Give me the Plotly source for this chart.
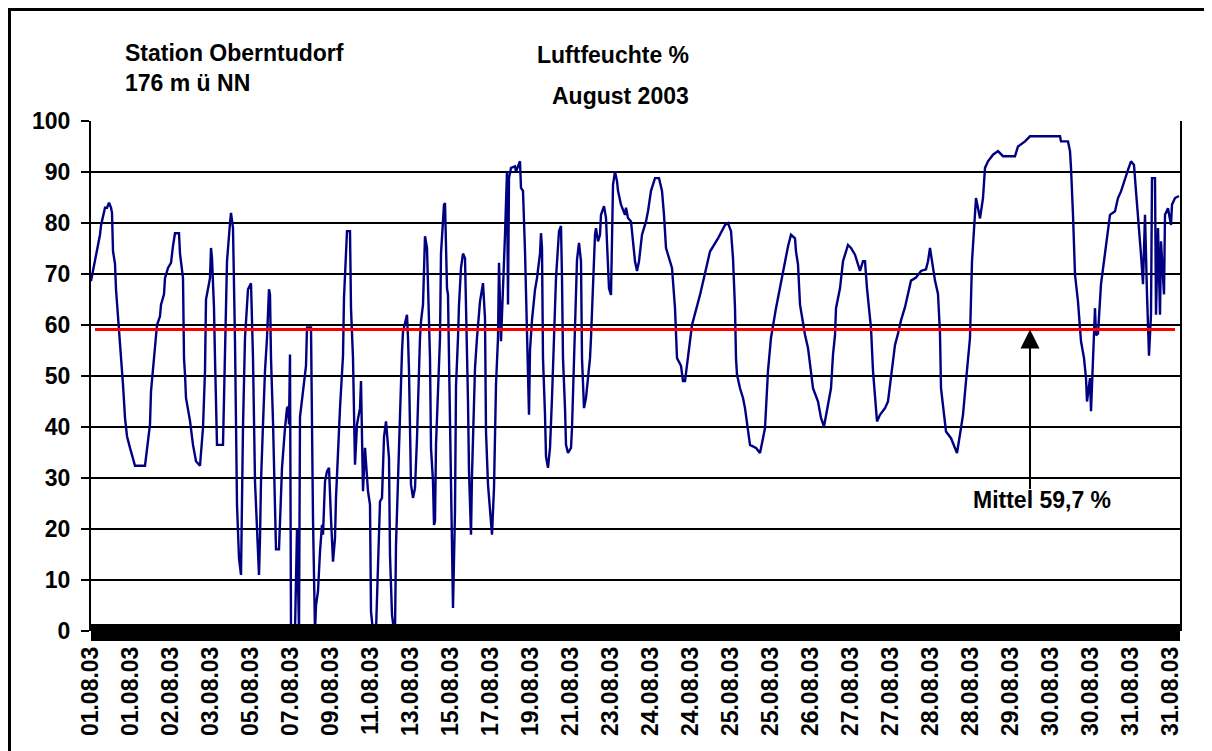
import plotly.graph_objects as go

# Messpunkt-Nr. (Kategorie der Excel-Achse) und relative Luftfeuchte in %
messpunkt = [
    0, 2, 4, 6, 9, 10, 14, 16, 18, 20, 21, 22, 24, 25, 27, 29, 30, 32, 34, 36,
    39, 44, 54, 55, 57, 59, 60, 62, 64, 66, 69, 70, 73, 74, 77, 80, 82, 84, 88, 89,
    92, 93, 94, 95, 99, 102, 105, 109, 110, 112, 114, 115, 119, 120, 121, 123, 124, 125, 126, 132,
    133, 136, 139, 140, 142, 144, 146, 148, 150, 151, 152, 154, 157, 160, 161, 162, 164, 166, 168, 169,
    170, 172, 174, 176, 178, 179, 180, 182, 184, 185, 188, 189, 191, 194, 196, 197, 198, 199, 200, 204,
    205, 206, 208, 209, 212, 215, 216, 220, 222, 224, 225, 227, 229, 231, 232, 234, 236, 238, 240, 241,
    242, 244, 245, 249, 252, 253, 254, 256, 259, 260, 262, 263, 264, 265, 266, 269, 270, 272, 274, 277,
    279, 280, 282, 285, 287, 289, 291, 293, 295, 298, 299, 301, 303, 304, 305, 307, 309, 311, 312, 314,
    316, 317, 318, 320, 322, 324, 326, 329, 330, 332, 334, 336, 338, 339, 340, 342, 343, 344, 345, 347,
    349, 350, 353, 354, 356, 357, 358, 359, 361, 362, 364, 365, 367, 368, 370, 372, 374, 376, 377, 378,
    380, 381, 384, 386, 389, 392, 394, 395, 397, 401, 403, 405, 407, 408, 410, 414, 415, 416, 417, 418,
    420, 424, 425, 429, 430, 432, 434, 436, 438, 439, 441, 444, 446, 449, 450, 451, 452, 454, 455, 457,
    459, 461, 463, 464, 465, 468, 470, 471, 472, 474, 475, 477, 480, 481, 483, 484, 486, 488, 490, 491,
    492, 493, 495, 499, 500, 502, 504, 505, 507, 509, 510, 513, 515, 516, 518, 520, 521, 522, 524, 526,
    527, 530, 534, 535, 537, 540, 542, 544, 546, 548, 551, 555, 557, 560, 564, 568, 571, 573, 575, 579,
    581, 584, 586, 590, 592, 594, 597, 600, 601, 609, 615, 619, 627, 634, 637, 640, 642, 644, 645, 646,
    649, 652, 654, 657, 659, 665, 669, 672, 674, 677, 680, 685, 690, 695, 697, 700, 704, 705, 707, 709,
    710, 714, 717, 719, 722, 727, 730, 733, 737, 740, 742, 744, 745, 747, 749, 752, 754, 757, 760, 764,
    767, 769, 772, 774, 776, 780, 782, 784, 786, 789, 794, 797, 800, 804, 807, 810, 814, 817, 820, 825,
    830, 835, 837, 839, 842, 844, 847, 849, 850, 852, 855, 860, 866, 870, 872, 875, 879, 881, 883, 885,
    889, 892, 894, 897, 902, 907, 912, 924, 927, 934, 939, 969, 970, 977, 979, 980, 982, 984, 987, 990,
    993, 995, 996, 999, 1000, 1002, 1004, 1005, 1007, 1010, 1012, 1015, 1019, 1024, 1027, 1030, 1034, 1037, 1040, 1043,
    1045, 1047, 1049, 1050, 1052, 1053, 1054, 1056, 1057, 1058, 1060, 1061, 1064, 1065, 1067, 1069, 1070, 1073, 1074, 1077,
    1080, 1081, 1084, 1088,
]
feuchte = [
    68.6, 70.6, 72, 74, 77.7, 79.5, 83, 83, 84, 83, 82, 74.5, 72, 67, 62, 57.5, 53.5, 48.3, 41.8, 38.2,
    35.9, 32.4, 32.4, 34.3, 37.8, 40.5, 47, 51.2, 55.5, 60, 61.7, 64, 66, 69.2, 71.2, 72.2, 75.5, 78, 78, 74,
    69.2, 53.5, 50.3, 45.7, 41.2, 36.5, 33.3, 32.4, 34.9, 39.8, 51, 65, 69.2, 75.1, 73.1, 63.3, 53.5, 47, 36.5, 36.5,
    45.7, 72.5, 80, 82, 79, 56.8, 24.8, 14.3, 11, 29.3, 40, 57.5, 67, 68.2, 62, 53.5, 29.3, 18.2, 11, 18.2,
    29.3, 40.5, 51, 57.5, 67, 65.9, 53.5, 41.1, 22.2, 16, 16, 22.2, 32, 39.8, 43.7, 44, 40.5, 54.2, 0, 0,
    12.5, 20, 0, 42, 47, 52, 59.5, 59.5, 22, 0, 5, 7.8, 15.6, 20.8, 18.9, 29.3, 31.3, 32, 22, 16.9,
    13.6, 18.2, 26.1, 43.7, 54, 65.3, 69.9, 78.4, 78.4, 63.3, 53.5, 37.8, 32.6, 36.5, 40.5, 43.7, 49, 27.4, 35.9, 27.4,
    24.8, 3.8, 0, 0, 14.2, 25.4, 26.1, 38, 41.1, 33.9, 14.9, 3.2, 0, 0, 16.9, 30, 44.4, 54.8, 58.7, 60.7,
    62, 57.5, 51, 28.7, 26.1, 28, 37.8, 57.5, 60.7, 64, 77.4, 75.1, 60.7, 53.5, 35.9, 29.3, 20.8, 21.5, 36.5, 47.6,
    57.5, 74, 83.6, 83.9, 67.2, 65.9, 53.5, 36, 18, 4.5, 23.5, 48, 57.5, 64, 71.2, 74, 73.1, 56.2, 45, 31.3,
    18.9, 30.6, 51.6, 57.5, 64.6, 68.2, 61.3, 39.1, 28.7, 18.9, 28, 48.3, 57.5, 72.2, 56.8, 77.7, 83, 90.1, 64, 88.8,
    90.8, 91.1, 90.1, 92.1, 86.9, 86.3, 74.5, 56.8, 42.4, 55, 61, 66.9, 69.2, 74, 78, 75.1, 53.5, 42.4, 34.2, 32,
    35.9, 45.7, 57.5, 60.7, 69.2, 78.4, 79.4, 69.2, 53.5, 43.7, 36.5, 34.9, 35.9, 39.8, 52.9, 59.4, 72.8, 76.1, 72.5, 53.5,
    47.6, 43.7, 45.7, 53.5, 57.5, 69.9, 77.7, 79, 76.4, 77.7, 81.6, 83.3, 81, 76.1, 67.2, 65.9, 76.4, 87.5, 90.1, 88.2,
    86.3, 83.6, 81.6, 83, 81, 80.3, 76.4, 72.5, 70.6, 72.5, 77.7, 80.3, 82.3, 86.3, 88.8, 88.8, 86.3, 81.6, 75.1, 72.5,
    71.2, 63.3, 53.5, 52, 49, 49, 53.5, 57.5, 60, 65.9, 71.2, 74.4, 77, 79.6, 80, 78.4, 73.1, 63.3, 53.5, 50.3,
    47.6, 45.7, 43.7, 39.8, 36.5, 35.9, 34.9, 37.8, 39.8, 51, 57.5, 63.3, 68.5, 73.1, 75.4, 77.7, 77, 74.4, 71.9, 64,
    62.7, 58.1, 55.5, 52.2, 47.6, 45, 41.8, 40.1, 44.4, 47.6, 54.2, 58, 63.3, 65.3, 67.2, 72.5, 73.8, 75.7, 75.1, 73.8,
    71.9, 70.6, 72.5, 72.5, 67.2, 59.4, 51, 46.4, 41.1, 42.4, 43.7, 45, 49.6, 56.1, 58.3, 60.9, 63.5, 66.1, 68.7, 69.3,
    70.6, 70.9, 72.5, 75.1, 71.2, 68.7, 66.1, 58.3, 47.6, 43.7, 39.1, 37.8, 34.9, 39.8, 42.4, 49, 57.5, 72.5, 79.6, 84.9,
    80.9, 84.9, 90.8, 92.1, 93.4, 94.1, 93.1, 93.1, 95, 96, 97, 97, 96, 96, 94.1, 90.8, 81.6, 69.9, 64.6, 56.8,
    53.5, 49.6, 45, 49.6, 43.1, 52.2, 63.3, 58, 58.3, 68, 71.2, 76.4, 81.6, 82.3, 84.9, 86.2, 88.8, 90.4, 92.1, 91.4,
    86.2, 81.6, 77.7, 73.8, 68, 73, 81.6, 66, 56.8, 54, 62, 88.8, 88.8, 62, 79, 62, 76.4, 66, 81.6, 82.9,
    79.6, 83.6, 84.9, 85.3,
]

# Beschriftung der Kategorienachse (jeder 40. Messpunkt)
datum_ticks = [0, 40, 80, 120, 160, 200, 240, 280, 320, 360, 400, 440, 480, 520,
               560, 600, 640, 680, 720, 760, 800, 840, 880, 920, 960, 1000, 1040, 1080]
datum_labels = [
    "01.08.03", "01.08.03", "02.08.03", "03.08.03", "05.08.03", "07.08.03", "09.08.03",
    "11.08.03", "13.08.03", "15.08.03", "17.08.03", "19.08.03", "21.08.03", "23.08.03",
    "24.08.03", "24.08.03", "25.08.03", "25.08.03", "26.08.03", "27.08.03", "27.08.03",
    "28.08.03", "28.08.03", "29.08.03", "30.08.03", "30.08.03", "31.08.03", "31.08.03",
]

mittel_x = [4, 1084]
mittel_y = [59.1, 59.1]
mittel_text = "Mittel 59,7 %"
mittel_pfeil_x = 939

W, H = 1212, 751
L, R, T, B = 83, 40, 113, 128
PW, PH = W - L - R, H - T - B
FONT = "Liberation Sans, Arial, sans-serif"


def px(x):
    # Pixel (von links) -> paper-Koordinate
    return (x - L) / PW


def py(y):
    # Pixel (von oben) -> paper-Koordinate
    return (H - B - y) / PH


fig = go.Figure()
fig.add_trace(go.Scatter(
    x=messpunkt, y=feuchte, mode="lines",
    line=dict(color="#000080", width=2.4), hoverinfo="skip",
))
fig.add_trace(go.Scatter(
    x=mittel_x, y=mittel_y, mode="lines",
    line=dict(color="#ff0000", width=3), hoverinfo="skip",
))

fig.update_layout(
    width=W, height=H,
    margin=dict(l=L, r=R, t=T, b=B, autoexpand=False),
    paper_bgcolor="white", plot_bgcolor="white",
    showlegend=False,
    font=dict(family=FONT, size=23, color="black", weight="bold"),
    xaxis=dict(
        range=[0, 1089], tickmode="array", tickvals=datum_ticks, ticktext=datum_labels,
        tickangle=-90, showgrid=False, zeroline=False, showline=False, ticks="",
        ticklabelstandoff=10,
    ),
    yaxis=dict(
        range=[0, 100], dtick=10, showgrid=True, gridcolor="black", gridwidth=2,
        showline=True, linecolor="black", linewidth=2, mirror=True,
        ticks="outside", ticklen=8, tickwidth=2, tickcolor="black",
        zeroline=False, ticklabelstandoff=6,
    ),
)

fig.add_annotation(
    x=px(115), y=py(60), xref="paper", yref="paper", xanchor="left", yanchor="middle",
    align="left", showarrow=False, text="Station Oberntudorf<br>176 m ü NN",
)
fig.add_annotation(
    x=px(683), y=py(46.5), xref="paper", yref="paper", xanchor="right", yanchor="middle",
    showarrow=False, text="Luftfeuchte %",
)
fig.add_annotation(
    x=px(683), y=py(88.5), xref="paper", yref="paper", xanchor="right", yanchor="middle",
    showarrow=False, text="August 2003",
)
fig.add_annotation(
    x=px(963), y=py(491.5), xref="paper", yref="paper", xanchor="left", yanchor="middle",
    showarrow=False, text=mittel_text,
)
fig.add_annotation(
    x=mittel_pfeil_x, y=mittel_y[0], xref="x", yref="y", text="",
    showarrow=True, ax=0, ay=161, arrowhead=2, arrowsize=1.9, arrowwidth=2,
    arrowcolor="black",
)

# dichte Teilstriche der Kategorienachse -> schwarzes Band
fig.add_shape(
    type="rect", xref="paper", yref="paper", x0=0, x1=1, y0=py(633), y1=py(616),
    fillcolor="black", line=dict(width=0), layer="above",
)
# Rahmen um das Diagramm
fig.add_shape(
    type="rect", xref="paper", yref="paper",
    x0=px(1.5), x1=px(1207), y0=py(747.5), y1=py(1.5),
    line=dict(color="black", width=3), fillcolor="rgba(0,0,0,0)",
)

fig.write_html("out.html")
